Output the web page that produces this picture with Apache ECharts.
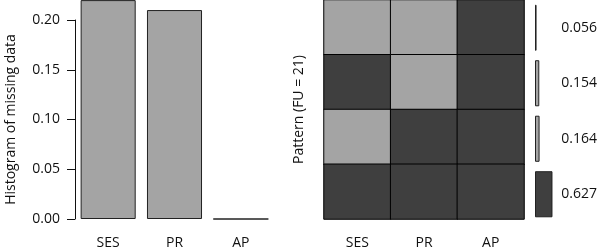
<!DOCTYPE html>
<html>
<head>
<meta charset="utf-8">
<script src="https://cdn.jsdelivr.net/npm/echarts@6/dist/echarts.min.js"></script>
<style>
  html, body { margin: 0; padding: 0; background: #fff; }
  #main { width: 600px; height: 250px; }
</style>
</head>
<body>
<div id="main"></div>
<script>
// 变量名 / 缺失比例
const variables = ['SES', 'PR', 'AP']
const missingRate = [0.22, 0.21, 0]
const yTicks = [0, 0.05, 0.1, 0.15, 0.2]
// 缺失模式 (1 = 缺失, 0 = 观测到)，从上到下
const patternLabels = ['0.056', '0.154', '0.164', '0.627']
const patternFreq = [0.056, 0.154, 0.164, 0.627]
const patternMissing = [
  [1, 1, 0],
  [0, 1, 0],
  [1, 0, 0],
  [0, 0, 0]
]

const light = '#a4a4a4'
const dark = '#3f3f3f'
const edge = '#222'
const font = '"Open Sans", "Noto Sans", sans-serif'
const txt = { color: '#111', fontSize: 14, fontFamily: font }

const cells = []
patternMissing.forEach((row, r) => {
  row.forEach((v, c) => cells.push([c, r, v]))
})

const myChart = echarts.init(document.getElementById('main'))
myChart.setOption({
  animation: false,
  textStyle: { fontFamily: font },
  grid: [
    { left: 75, top: 20, width: 199, height: 202 },
    { left: 324, top: 0, width: 200, height: 222 },
    { left: 535, top: 0, width: 25, height: 222 }
  ],
  xAxis: [
    {
      gridIndex: 0, type: 'category', data: variables,
      axisLine: { show: false }, axisTick: { show: false },
      axisLabel: Object.assign({ margin: 17 }, txt)
    },
    {
      gridIndex: 1, type: 'category', data: variables,
      axisLine: { show: false }, axisTick: { show: false },
      axisLabel: Object.assign({ margin: 17 }, txt)
    },
    {
      gridIndex: 2, type: 'value', min: 0, max: 0.8, show: false
    }
  ],
  yAxis: [
    {
      gridIndex: 0, type: 'value', min: yTicks[0], max: yTicks[yTicks.length - 1], interval: 0.05,
      name: 'Histogram of missing data', nameLocation: 'middle', nameGap: 57,
      nameTextStyle: txt,
      axisLine: { show: true, lineStyle: { color: '#111' } },
      axisTick: { show: true, inside: false, length: 8, lineStyle: { color: '#111' } },
      splitLine: { show: false },
      axisLabel: Object.assign({ margin: 15, formatter: v => v.toFixed(2) }, txt)
    },
    {
      gridIndex: 1, type: 'category', data: patternLabels, inverse: true,
      name: 'Pattern (FU = 21)', nameLocation: 'middle', nameGap: 18,
      nameTextStyle: txt,
      axisLine: { show: false }, axisTick: { show: false },
      axisLabel: { show: false }
    },
    {
      gridIndex: 2, type: 'category', data: patternLabels, inverse: true,
      position: 'right',
      axisLine: { show: false }, axisTick: { show: false },
      axisLabel: Object.assign({ margin: 4 }, txt)
    }
  ],
  visualMap: {
    show: false, type: 'piecewise', seriesIndex: 1, dimension: 2,
    pieces: [{ value: 1, color: light }, { value: 0, color: dark }]
  },
  series: [
    {
      type: 'bar', xAxisIndex: 0, yAxisIndex: 0, data: missingRate,
      clip: false, barCategoryGap: '17%',
      itemStyle: { color: light, borderColor: edge, borderWidth: 1 }
    },
    {
      type: 'heatmap', xAxisIndex: 1, yAxisIndex: 1, data: cells,
      itemStyle: { borderColor: '#000', borderWidth: 1 }
    },
    {
      type: 'bar', xAxisIndex: 2, yAxisIndex: 2, data: patternFreq,
      barCategoryGap: '17%',
      itemStyle: {
        borderColor: edge, borderWidth: 1,
        color: p => (p.dataIndex === patternFreq.length - 1 ? dark : light)
      }
    }
  ]
})
</script>
</body>
</html>
